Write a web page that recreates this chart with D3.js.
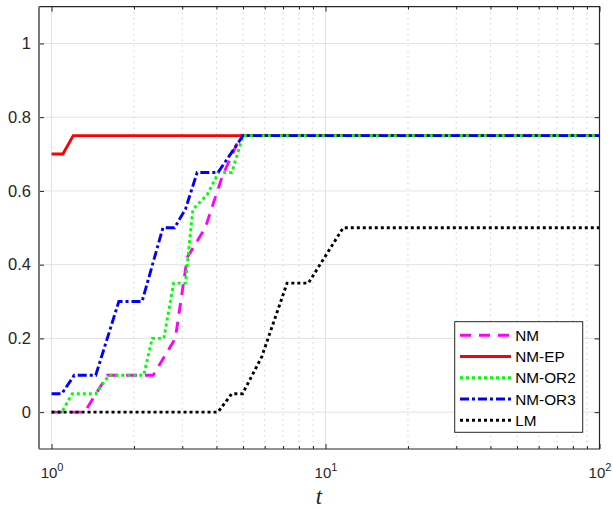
<!DOCTYPE html>
<html>
<head>
<meta charset="utf-8">
<script src="https://cdn.jsdelivr.net/npm/d3@7"></script>
<style>
  body { margin: 0; background: #fff; }
  svg { display: block; font-family: "Liberation Sans", Arial, sans-serif; }
</style>
</head>
<body>
<svg id="chart" width="613" height="510"></svg>
<script>
// series values as [t, fraction]
const nm    = [[1, 0], [1.32, 0], [1.6, 0.1], [2.35, 0.1], [2.83, 0.2], [3.13, 0.42], [3.64, 0.5], [4.2, 0.64], [4.9, 0.75], [100, 0.75]];
const nmEP  = [[1, 0.7], [1.1, 0.7], [1.2, 0.75], [100, 0.75]];
const nmOR2 = [[1, 0], [1.09, 0], [1.19, 0.05], [1.45, 0.05], [1.62, 0.1], [2.17, 0.1], [2.33, 0.2], [2.57, 0.2], [2.79, 0.35], [3.08, 0.35], [3.28, 0.55], [3.7, 0.59], [4.07, 0.65], [4.55, 0.65], [5, 0.75], [100, 0.75]];
const nmOR3 = [[1, 0.05], [1.09, 0.05], [1.21, 0.1], [1.45, 0.1], [1.76, 0.3], [2.14, 0.3], [2.55, 0.5], [2.81, 0.5], [3.08, 0.55], [3.4, 0.65], [4.05, 0.65], [5, 0.75], [100, 0.75]];
const lm    = [[1, 0], [4.05, 0], [4.55, 0.05], [4.98, 0.05], [5.85, 0.15], [7.24, 0.35], [8.66, 0.35], [11.6, 0.5], [100, 0.5]];

const seriesNames = ["NM", "NM-EP", "NM-OR2", "NM-OR3", "LM"];
const yTicks = [0, 0.2, 0.4, 0.6, 0.8, 1];
const xTicks = [1, 10, 100];

const series = [
  { name: "NM",     data: nm,    color: "#ff00ff", dash: "11,8" },
  { name: "NM-EP",  data: nmEP,  color: "#ff0000", dash: null },
  { name: "NM-OR2", data: nmOR2, color: "#00ff00", dash: "3,3" },
  { name: "NM-OR3", data: nmOR3, color: "#0000ff", dash: "9,3,3,3" },
  { name: "LM",     data: lm,    color: "#000000", dash: "3,3" }
];

const svg = d3.select("#chart");
const plotL = 39, plotR = 599.5, plotT = 6.6, plotB = 449;

const x = d3.scaleLog().domain([0.9, 100]).range([plotL, plotR]);
const y = d3.scaleLinear().domain([-0.1, 1.1]).range([plotB, plotT]);

const minorTicks = [];
[1, 10].forEach(base => d3.range(2, 10).forEach(k => minorTicks.push(base * k)));

// grid
const grid = svg.append("g");
grid.selectAll(".hgrid").data(yTicks).join("line")
  .attr("x1", plotL).attr("x2", plotR)
  .attr("y1", d => y(d)).attr("y2", d => y(d))
  .attr("stroke", "#e3e3e3").attr("stroke-width", 1);
grid.selectAll(".vgrid").data([1, 10]).join("line")
  .attr("x1", d => x(d)).attr("x2", d => x(d))
  .attr("y1", plotT).attr("y2", plotB)
  .attr("stroke", "#e3e3e3").attr("stroke-width", 1);
grid.selectAll(".vminor").data(minorTicks).join("line")
  .attr("x1", d => x(d)).attr("x2", d => x(d))
  .attr("y1", plotT).attr("y2", plotB)
  .attr("stroke", "#d0d0d0").attr("stroke-width", 1)
  .attr("stroke-dasharray", "1.5,4");

// lines
svg.append("clipPath").attr("id", "clip").append("rect")
  .attr("x", plotL).attr("y", plotT).attr("width", plotR - plotL).attr("height", plotB - plotT);

const line = d3.line().x(d => x(d[0])).y(d => y(d[1]));

svg.append("g").attr("clip-path", "url(#clip)")
  .selectAll("path").data(series).join("path")
  .attr("d", d => line(d.data))
  .attr("fill", "none")
  .attr("stroke", d => d.color)
  .attr("stroke-width", 2.9)
  .attr("stroke-dasharray", d => d.dash);

// axes
const axisColor = "#262626";
const yAxis = svg.append("g").attr("transform", `translate(${plotL},0)`)
  .call(d3.axisLeft(y).tickValues(yTicks).tickSize(-5).tickPadding(8).tickFormat(d3.format("~g")));
const yAxisR = svg.append("g").attr("transform", `translate(${plotR},0)`)
  .call(d3.axisRight(y).tickValues(yTicks).tickSize(-5).tickFormat(""));
const xAxis = svg.append("g").attr("transform", `translate(0,${plotB})`)
  .call(d3.axisBottom(x).tickValues(xTicks).tickSize(-5).tickPadding(18).tickFormat(""));
const xAxisMinor = svg.append("g").attr("transform", `translate(0,${plotB})`)
  .call(d3.axisBottom(x).tickValues(minorTicks).tickSize(-3).tickFormat(""));
const xAxisT = svg.append("g").attr("transform", `translate(0,${plotT})`)
  .call(d3.axisTop(x).tickValues(xTicks).tickSize(-5).tickFormat(""));
const xAxisTMinor = svg.append("g").attr("transform", `translate(0,${plotT})`)
  .call(d3.axisTop(x).tickValues(minorTicks).tickSize(-3).tickFormat(""));

[yAxis, yAxisR, xAxis, xAxisMinor, xAxisT, xAxisTMinor].forEach(g => {
  g.select(".domain").remove();
  g.selectAll(".tick line").attr("stroke", axisColor);
});

yAxis.selectAll("text").attr("font-size", 16.5).attr("fill", "#262626")
  .attr("font-family", "Liberation Sans, Arial, sans-serif");

xAxis.selectAll(".tick text").each(function(d) {
  const t = d3.select(this)
    .attr("font-size", 15).attr("fill", "#262626")
    .attr("font-family", "Liberation Sans, Arial, sans-serif")
    .text("10");
  t.append("tspan").attr("font-size", 11).attr("dy", -7).text(Math.round(Math.log10(d)));
});

// box
svg.append("path")
  .attr("d", `M${plotL},${plotT}H${plotR}V${plotB}H${plotL}`)
  .attr("fill", "none").attr("stroke", axisColor).attr("stroke-width", 1.2);
svg.append("line")
  .attr("x1", plotL).attr("x2", plotL).attr("y1", plotT).attr("y2", plotB)
  .attr("stroke", "#7a7a7a").attr("stroke-width", 2);

// x label
svg.append("text")
  .attr("x", 319).attr("y", 504)
  .attr("text-anchor", "middle")
  .attr("font-family", "Liberation Serif, serif")
  .attr("font-style", "italic")
  .attr("font-size", 23)
  .attr("fill", "#262626")
  .text("t");

// legend
const legend = svg.append("g");
legend.append("rect")
  .attr("x", 454.7).attr("y", 321.7).attr("width", 128).attr("height", 110.6)
  .attr("fill", "#fff").attr("stroke", axisColor).attr("stroke-width", 1);

const ly = d3.scalePoint().domain(seriesNames).range([335.3, 420.3]);

legend.selectAll(".sample").data(series).join("line")
  .attr("x1", 460).attr("x2", 511)
  .attr("y1", d => ly(d.name)).attr("y2", d => ly(d.name))
  .attr("stroke", d => d.color).attr("stroke-width", 2.9)
  .attr("stroke-dasharray", d => d.dash);

legend.selectAll(".label").data(series).join("text")
  .attr("x", 515.3).attr("y", d => ly(d.name) + 5.5)
  .attr("font-size", 15.3).attr("fill", "#000")
  .text(d => d.name);
</script>
</body>
</html>
